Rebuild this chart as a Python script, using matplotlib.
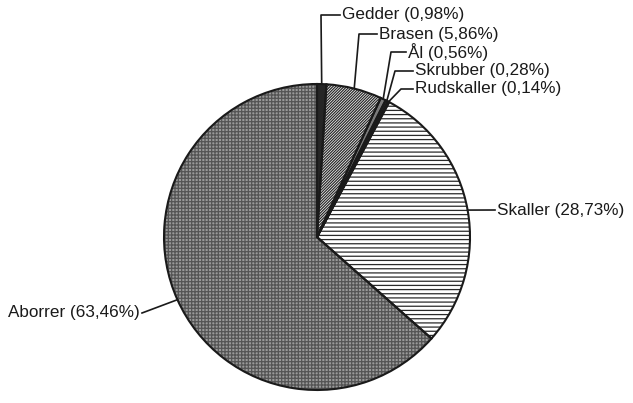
import numpy as np
import matplotlib
matplotlib.use("Agg")
import matplotlib.pyplot as plt

categories = ["Gedder", "Brasen", "Ål", "Skrubber", "Rudskaller", "Skaller", "Aborrer"]
values = [0.98, 5.86, 0.56, 0.28, 0.14, 28.73, 63.46]
labels = [f"{c} ({v:.2f}%)".replace('.', ',') for c, v in zip(categories, values)]

faces = ["#262626", "white", "#7a7a7a", "#303030", "#303030", "white", "#9a9a9a"]
hatches = [None, "////////////", None, None, None, "----", "+++++"]
hcolors = ["#262626", "#2a2a2a", "#7a7a7a", "#303030", "#303030", "#2a2a2a", "#555555"]

plt.rcParams["font.family"] = ["Liberation Sans", "DejaVu Sans"]
plt.rcParams["hatch.linewidth"] = 0.9
fig = plt.figure(figsize=(6.33, 4.03), dpi=100)
ax = fig.add_axes([0, 0, 1, 1])
W, H = 633, 403
cx, cy, R = 317, 237, 153

# fill + hatch layer
wedges, _ = ax.pie(values, startangle=90, counterclock=False, center=(cx, H - cy), radius=R,
                   colors=faces, wedgeprops=dict(linewidth=0))
for w, h, hc in zip(wedges, hatches, hcolors):
    w.set_edgecolor(hc)
    w.set_linewidth(0)
    if h:
        w.set_hatch(h)
# outline layer
ax.pie(values, startangle=90, counterclock=False, center=(cx, H - cy), radius=R,
       colors=["none"] * len(values), wedgeprops=dict(linewidth=1.5, edgecolor="#1a1a1a", fill=False))

ax.set_xlim(0, W)
ax.set_ylim(0, H)
ax.set_aspect("auto")
ax.axis("off")

# label layout (pixel coords, y from top)
text_pos = {"Gedder": (342, 15), "Brasen": (379, 34), "Ål": (408, 52), "Skrubber": (415, 71),
            "Rudskaller": (415, 89), "Skaller": (497, 210), "Aborrer": (140, 313)}
elbow_x = {"Gedder": 321, "Brasen": 359, "Ål": 391, "Skrubber": 395, "Rudskaller": 401}

cum = np.cumsum([0] + values)
for i, (c, lab) in enumerate(zip(categories, labels)):
    mid = (cum[i] + cum[i + 1]) / 2 / 100 * 360
    ex = cx + R * np.sin(np.radians(mid))
    ey = cy - R * np.cos(np.radians(mid))
    tx, ty = text_pos[c]
    if c in elbow_x:
        xs = [ex, elbow_x[c], tx - 2]
        ys = [ey, ty, ty]
        ha = "left"
    elif c == "Skaller":
        xs = [ex, tx - 2]
        ys = [ey, ty]
        ha = "left"
    else:
        xs = [ex, tx + 2]
        ys = [ey, ty]
        ha = "right"
    ax.plot(xs, [H - y for y in ys], color="#1a1a1a", lw=1.2)
    ax.text(tx, H - ty, lab, ha=ha, va="center", fontsize=12.3, color="#1a1a1a")

fig.savefig("out.png", dpi=100)
